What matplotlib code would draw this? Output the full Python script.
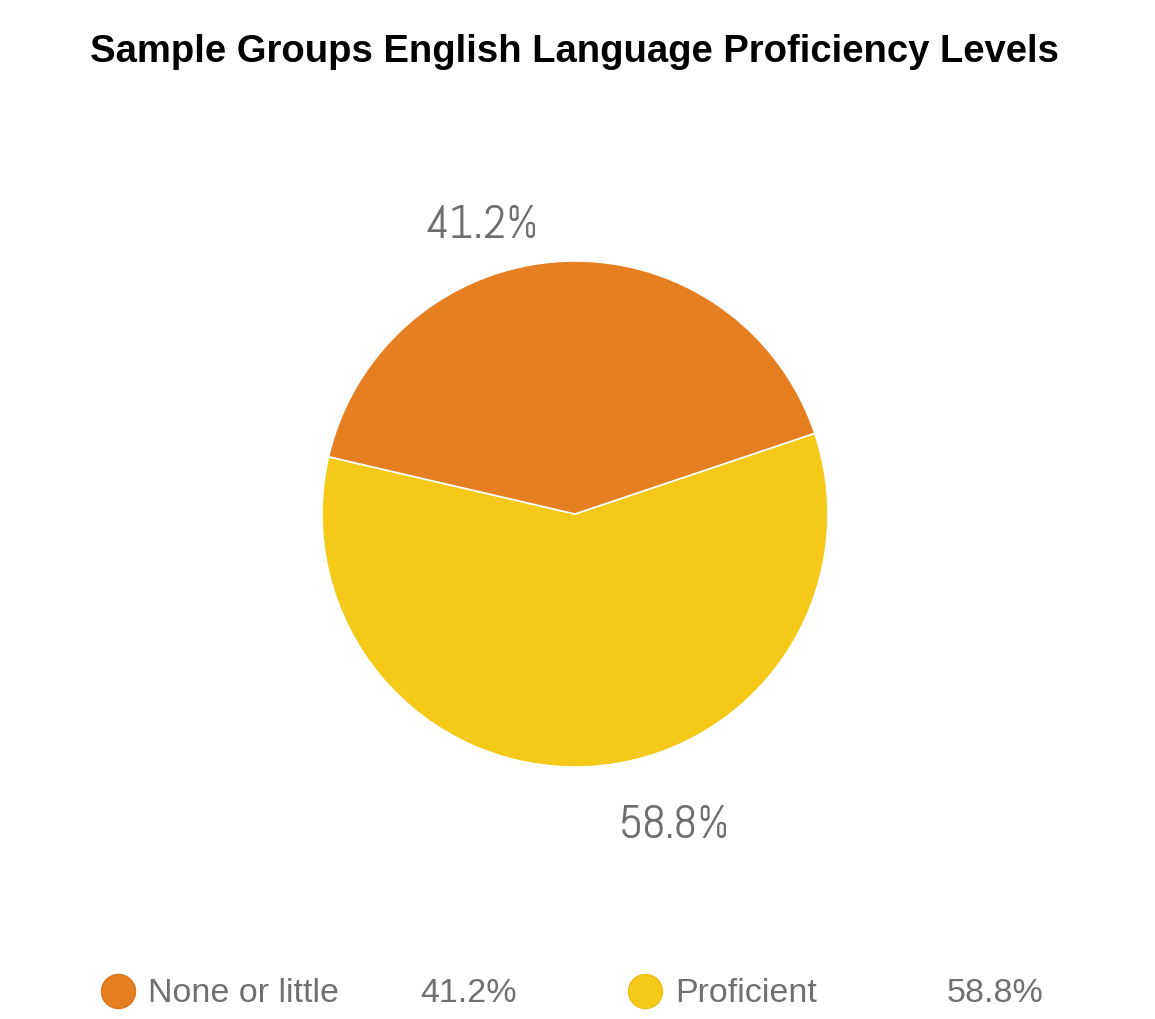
import numpy as np
import matplotlib
matplotlib.use('Agg')
import matplotlib.pyplot as plt

# data
categories = ['None or little', 'Proficient']
values = [41.2, 58.8]
colors = ['#E67E22', '#F5C917']
edge_colors = ['#D9701A', '#EDBE10']

W, H = 1155, 1020
fig = plt.figure(figsize=(W / 100, H / 100), dpi=100)

label_font = ['Abel', 'Oswald', 'DejaVu Sans']
sans = ['Liberation Sans', 'DejaVu Sans']

# title
fig.text(575 / W, 1 - 52 / H, 'Sample Groups English Language Proficiency Levels',
         ha='center', va='center', fontsize=27.5, fontweight='bold',
         family=sans, color='black')

# pie, centre (575, 515), radius 253 px
cx, cy, r = 575, 515, 253
ax = fig.add_axes([(cx - r) / W, (H - cy - r) / H, 2 * r / W, 2 * r / H])
start = 18.6
ax.pie(values[::-1], colors=colors[::-1], startangle=start - 360 * values[1] / 100,
       counterclock=True, radius=1,
       wedgeprops=dict(edgecolor='white', linewidth=1.2))
ax.set_xlim(-1, 1)
ax.set_ylim(-1, 1)
ax.set_aspect('auto')
ax.axis('off')

# percentage labels outside the slices
a0 = start
for v, d in zip(values, [1.2, 1.29]):
    mid = a0 + 360 * v / 200 + 15
    a0 += 360 * v / 100
    t = np.deg2rad(mid)
    ax.text(d * np.cos(t), d * np.sin(t), f'{v:.1f}%', ha='center', va='center',
            fontsize=34, color='#6E6E6E', family=label_font,
            clip_on=False)

# legend row
lg = fig.add_axes([0, 0, 1, 1])
lg.set_xlim(0, W)
lg.set_ylim(H, 0)
lg.axis('off')
xs = [118, 645]
for i, (c, v) in enumerate(zip(categories, values)):
    x = xs[i]
    lg.scatter([x], [992], s=34 ** 2 * 0.5184, color=colors[i], edgecolors=edge_colors[i],
               linewidths=1)
    lg.text(x + 30, 994, c, ha='left', va='center', fontsize=24.5, color='#707070',
            family=sans)
    lg.text(x + 399, 994, f'{v:.1f}%', ha='right', va='center', fontsize=24.5,
            color='#707070', family=sans)

fig.savefig('out.png', dpi=100, facecolor='white')
